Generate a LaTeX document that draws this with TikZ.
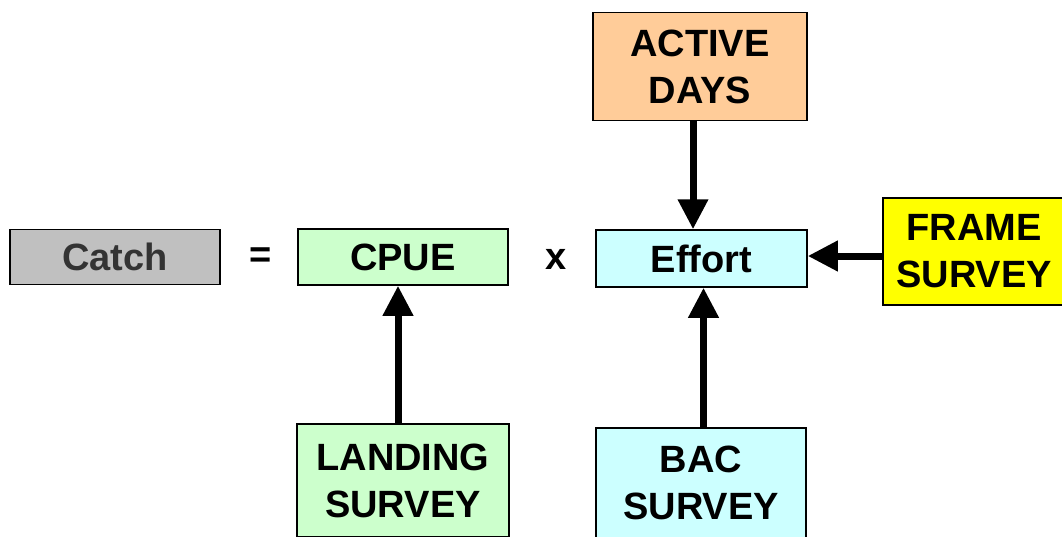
\documentclass[tikz,border=0pt]{standalone}
\usepackage{fontspec}
\setmainfont{Liberation Sans}
\usetikzlibrary{arrows.meta}
\definecolor{catchgray}{HTML}{C0C0C0}
\definecolor{catchtext}{HTML}{333333}
\definecolor{cpuegreen}{HTML}{CCFFCC}
\definecolor{effortcyan}{HTML}{CCFFFF}
\definecolor{activeorange}{HTML}{FFCC99}
\definecolor{frameyellow}{HTML}{FFFF00}
\tikzset{
  box/.style={draw=black, line width=1.5pt, rectangle, inner sep=0pt, align=center,
    font=\fontsize{38}{47}\selectfont\bfseries},
  op/.style={inner sep=0pt, font=\fontsize{38}{47}\selectfont\bfseries},
  arr/.style={line width=7pt, -{Triangle[width=29pt,length=30pt]}}
}
\begin{document}
\begin{tikzpicture}[x=1pt,y=-1pt]
\useasboundingbox (0,0) rectangle (1062,536);
\node[box, fill=catchgray, text=catchtext, minimum width=210pt, minimum height=55pt] (catch) at (115,257) {Catch};
\node[op] (eq) at (261,258) {=};
\node[box, fill=cpuegreen, minimum width=210pt, minimum height=56pt] (cpue) at (403,257) {CPUE};
\node[op] (times) at (556,259) {x};
\node[box, fill=effortcyan, minimum width=211pt, minimum height=57pt] (effort) at (701.5,258.5) {Effort};
\node[box, fill=activeorange, minimum width=214pt, minimum height=108pt] (active) at (700,66.5) {ACTIVE\\DAYS};
\node[box, fill=frameyellow, minimum width=182pt, minimum height=107pt] (frame) at (974,251.5) {FRAME\\SURVEY};
\node[box, fill=cpuegreen, minimum width=212pt, minimum height=113pt] (landing) at (403,480.5) {LANDING\\SURVEY};
\node[box, fill=effortcyan, minimum width=210pt, minimum height=110pt] (bac) at (701,483) {BAC\\SURVEY};
\draw[arr] ([xshift=-7pt]active.south) -- ([xshift=-8.5pt]effort.north);
\draw[arr] (frame.west |- 0,256) -- (effort.east |- 0,256);
\draw[arr] ([xshift=-5pt]landing.north) -- ([xshift=-5pt]cpue.south);
\draw[arr] ([xshift=2.5pt]bac.north) -- ([xshift=2.5pt]bac.north |- effort.south);
\end{tikzpicture}
\end{document}
